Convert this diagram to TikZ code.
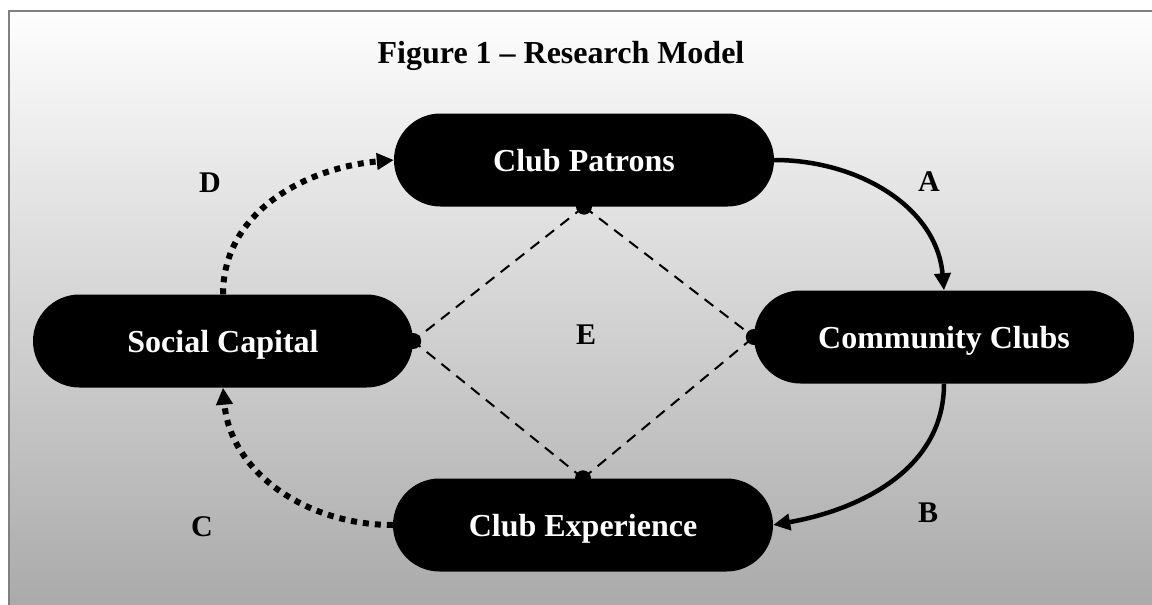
\documentclass[tikz,border=0pt]{standalone}
\usepackage{fontspec}
\setmainfont{Liberation Serif}
\usetikzlibrary{arrows.meta, shapes.misc}

\definecolor{bgtop}{RGB}{254,254,254}
\definecolor{bgbottom}{RGB}{170,170,170}
\definecolor{framegray}{RGB}{128,128,128}

\begin{document}
\begin{tikzpicture}[x=1pt, y=-1pt, >={Triangle[length=17pt, width=16pt]},
    concept/.style={rounded rectangle, fill=black, text=white, inner sep=0pt,
        minimum width=380pt, minimum height=93pt, text height=22pt, text depth=0pt,
        font=\fontsize{32}{38}\selectfont\bfseries},
    letter/.style={font=\fontsize{30}{36}\selectfont\bfseries},
    solidlink/.style={->, line width=4.5pt},
    dottedlink/.style={->, line width=6pt, dash pattern=on 6pt off 6pt},
    dashedlink/.style={line width=2pt, dash pattern=on 11pt off 8pt}]

    % Canvas and background
    \useasboundingbox (0,0) rectangle (1152,605);
    \shade[top color=bgtop, bottom color=bgbottom] (9,11) rectangle (1152,605);
    \draw[framegray, line width=2.5pt] (9,605) -- (9,11) -- (1152,11);

    % Title
    \node[anchor=base, font=\fontsize{32}{38}\selectfont\bfseries] (title) at (561,63) {Figure 1 -- Research Model};

    % Concepts
    \node[concept] (patrons) at (584,160) {Club Patrons};
    \node[concept] (social) at (223,341) {Social Capital};
    \node[concept] (clubs) at (944,337) {Community Clubs};
    \node[concept] (experience) at (583,525) {Club Experience};

    % Dashed diamond
    \draw[dashedlink] (patrons.south) -- (social.east);
    \draw[dashedlink] (patrons.south) -- (clubs.west);
    \draw[dashedlink] (experience.north) -- (social.east);
    \draw[dashedlink] (experience.north) -- (clubs.west);

    \foreach \p in {patrons.south, social.east, clubs.west, experience.north}
        \fill (\p) circle (8pt);

    % Paths between concepts
    \draw[solidlink] (patrons.east) to[out=0, in=95] (clubs.north);
    \draw[solidlink] (clubs.south) to[out=-90, in=10] (experience.east);
    \draw[dottedlink] (experience.west) to[out=180, in=-85] (social.south);
    \draw[dottedlink] (social.north) to[out=90, in=185] (patrons.west);

    % Path labels
    \node[letter] (labelA) at (929,182) {A};
    \node[letter] (labelB) at (928,513) {B};
    \node[letter] (labelC) at (202,527) {C};
    \node[letter] (labelD) at (210,183) {D};
    \node[letter] (labelE) at (586,335) {E};

\end{tikzpicture}
\end{document}
